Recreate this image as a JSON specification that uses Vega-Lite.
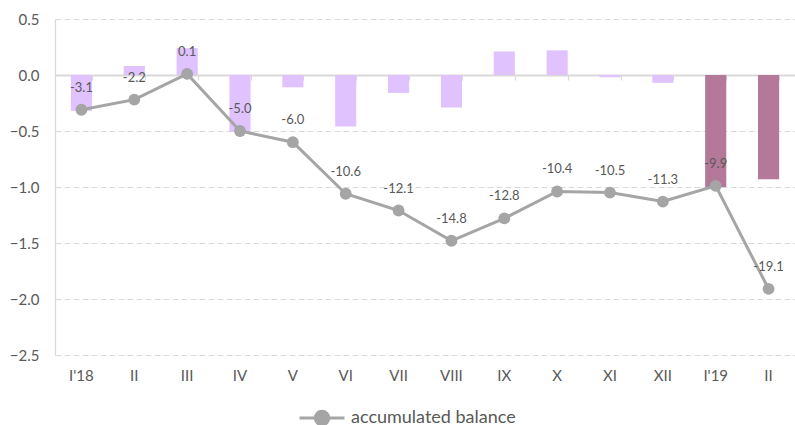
{
  "$schema": "https://vega.github.io/schema/vega-lite/v6.json",
  "width": 740,
  "height": 336,
  "autosize": "none",
  "padding": {"left": 55, "top": 19, "right": 0, "bottom": 70},
  "background": "white",
  "config": {
    "font": "Lato",
    "view": {"stroke": null},
    "axis": {"labelFont": "Lato", "labelColor": "#595959", "labelFontSize": 15}
  },
  "data": {
    "values": [
      {"m": "I'18", "bar": -0.32, "line": -0.31, "label": "-3.1", "year": "2018"},
      {"m": "II", "bar": 0.08, "line": -0.22, "label": "-2.2", "year": "2018"},
      {"m": "III", "bar": 0.24, "line": 0.01, "label": "0.1", "year": "2018"},
      {"m": "IV", "bar": -0.51, "line": -0.50, "label": "-5.0", "year": "2018"},
      {"m": "V", "bar": -0.11, "line": -0.60, "label": "-6.0", "year": "2018"},
      {"m": "VI", "bar": -0.46, "line": -1.06, "label": "-10.6", "year": "2018"},
      {"m": "VII", "bar": -0.16, "line": -1.21, "label": "-12.1", "year": "2018"},
      {"m": "VIII", "bar": -0.29, "line": -1.48, "label": "-14.8", "year": "2018"},
      {"m": "IX", "bar": 0.21, "line": -1.28, "label": "-12.8", "year": "2018"},
      {"m": "X", "bar": 0.22, "line": -1.04, "label": "-10.4", "year": "2018"},
      {"m": "XI", "bar": -0.02, "line": -1.05, "label": "-10.5", "year": "2018"},
      {"m": "XII", "bar": -0.07, "line": -1.13, "label": "-11.3", "year": "2018"},
      {"m": "I'19", "bar": -1.00, "line": -0.99, "label": "-9.9", "year": "2019"},
      {"m": "II'19", "bar": -0.93, "line": -1.91, "label": "-19.1", "year": "2019"}
    ]
  },
  "encoding": {
    "x": {
      "field": "m",
      "type": "nominal",
      "scale": {
        "domain": ["I'18", "II", "III", "IV", "V", "VI", "VII", "VIII", "IX", "X", "XI", "XII", "I'19", "II'19"],
        "paddingInner": 0.6,
        "paddingOuter": 0.3
      }
    }
  },
  "layer": [
    {
      "mark": {"type": "bar"},
      "encoding": {
        "x": {
          "field": "m",
          "type": "nominal",
          "axis": {
            "title": null,
            "labelAngle": 0,
            "domain": false,
            "ticks": false,
            "labelPadding": 13,
            "labelExpr": "datum.label == \"II'19\" ? 'II' : datum.label"
          }
        },
        "y": {
          "field": "bar",
          "type": "quantitative",
          "scale": {"domain": [-2.5, 0.5], "nice": false, "zero": false},
          "axis": {
            "title": null,
            "values": [-2.5, -2.0, -1.5, -1.0, -0.5, 0.0, 0.5],
            "format": ".1f",
            "ticks": false,
            "domain": true,
            "domainColor": "#D9D9D9",
            "domainWidth": 1.2,
            "grid": true,
            "gridColor": "#D9D9D9",
            "gridDash": [6, 3],
            "gridWidth": 1.2,
            "labelPadding": 16
          }
        },
        "color": {
          "field": "year",
          "type": "nominal",
          "scale": {"domain": ["2018", "2019"], "range": ["#E0C2FF", "#B47898"]},
          "legend": null
        }
      }
    },
    {
      "mark": {"type": "line", "strokeWidth": 3, "color": "#A5A5A5"},
      "encoding": {
        "x": {
          "field": "m",
          "type": "nominal",
          "axis": {
            "title": null,
            "orient": "top",
            "labels": false,
            "offset": -56,
            "domain": true,
            "domainColor": "#D9D9D9",
            "domainWidth": 1.8,
            "ticks": true,
            "tickBand": "extent",
            "tickColor": "#D9D9D9",
            "tickSize": -5,
            "tickWidth": 1.2,
            "grid": false
          }
        },
        "y": {"field": "line", "type": "quantitative"},
        "stroke": {
          "datum": "accumulated balance",
          "scale": {"range": ["#A5A5A5"]},
          "legend": {
            "title": null,
            "orient": "none",
            "legendX": 243,
            "legendY": 375,
            "symbolType": "M-1,0L1,0M-0.3,0A0.3,0.3 0 1,1 0.3,0A0.3,0.3 0 1,1 -0.3,0Z",
            "symbolSize": 2025,
            "symbolStrokeWidth": 3,
            "symbolFillColor": "#A5A5A5",
            "labelFontSize": 18,
            "labelLimit": 400,
            "labelColor": "#595959",
            "labelFont": "Lato",
            "labelOffset": 5,
            "encode": {"symbols": {"update": {"fill": {"value": "#A5A5A5"}, "stroke": {"value": "#A5A5A5"}, "opacity": {"value": 1}}}}
          }
        }
      }
    },
    {
      "mark": {"type": "point", "filled": true, "size": 140, "color": "#A5A5A5", "opacity": 1},
      "encoding": {
        "x": {"field": "m", "type": "nominal", "axis": null},
        "y": {"field": "line", "type": "quantitative"}
      }
    },
    {
      "mark": {"type": "text", "dy": -22, "fontSize": 13, "color": "#595959", "font": "Lato"},
      "encoding": {
        "x": {"field": "m", "type": "nominal", "axis": null},
        "y": {"field": "line", "type": "quantitative"},
        "text": {"field": "label"}
      }
    }
  ],
  "resolve": {"axis": {"x": "independent"}}
}
